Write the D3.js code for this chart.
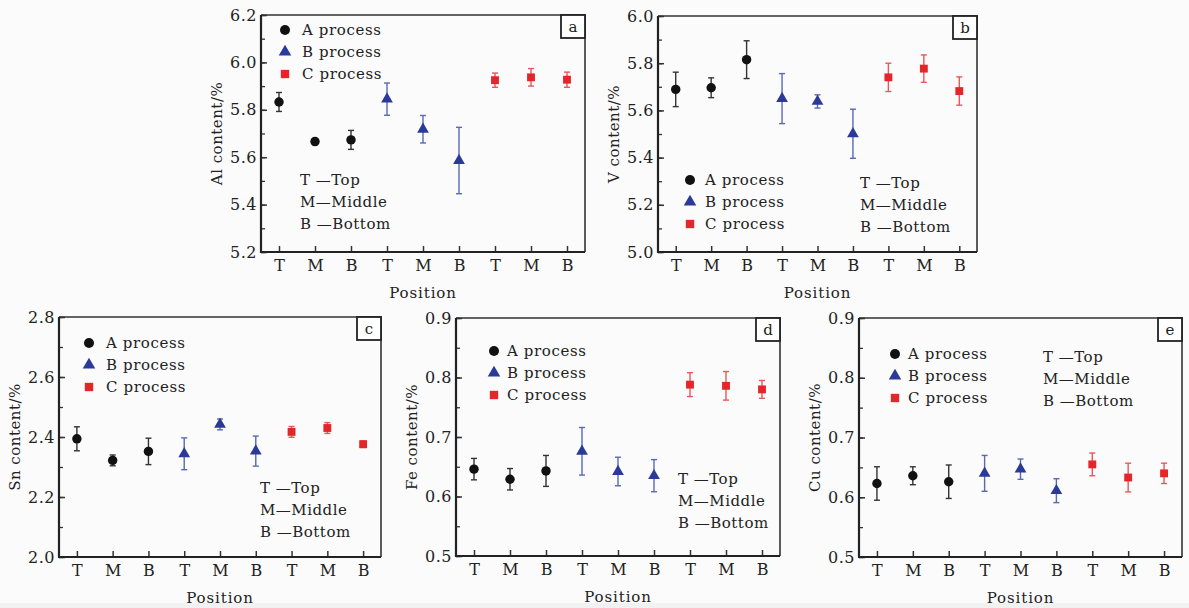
<!DOCTYPE html>
<html>
<head>
<meta charset="utf-8">
<script src="https://cdn.jsdelivr.net/npm/d3@7"></script>
<style>
  body { margin: 0; background: #fbfbfb; }
  svg { display: block; }
  text { font-family: "DejaVu Serif", serif; fill: #222; }
</style>
</head>
<body>
<svg id="chart" width="1189" height="608"></svg>
<script>
// categories
var positions = ["T", "M", "B", "T", "M", "B", "T", "M", "B"];
var processNames = ["A process", "B process", "C process"];
var processOf = [0, 0, 0, 1, 1, 1, 2, 2, 2];
var keyLines = ["T \u2014Top", "M\u2014Middle", "B \u2014Bottom"];

// values (mean and half error bar)
var alMean = [5.833, 5.666, 5.673, 5.845, 5.718, 5.586, 5.925, 5.937, 5.927];
var alErr  = [0.040, 0.013, 0.040, 0.068, 0.058, 0.140, 0.030, 0.037, 0.032];
var vMean  = [5.689, 5.696, 5.815, 5.650, 5.638, 5.501, 5.740, 5.777, 5.682];
var vErr   = [0.073, 0.042, 0.080, 0.106, 0.028, 0.104, 0.060, 0.058, 0.060];
var snMean = [2.394, 2.322, 2.352, 2.344, 2.442, 2.353, 2.417, 2.430, 2.376];
var snErr  = [0.040, 0.018, 0.044, 0.053, 0.018, 0.050, 0.018, 0.018, 0.011];
var feMean = [0.646, 0.629, 0.643, 0.676, 0.642, 0.635, 0.788, 0.786, 0.780];
var feErr  = [0.018, 0.018, 0.026, 0.040, 0.024, 0.027, 0.020, 0.024, 0.015];
var cuMean = [0.623, 0.636, 0.626, 0.640, 0.647, 0.611, 0.655, 0.633, 0.640];
var cuErr  = [0.028, 0.015, 0.028, 0.030, 0.017, 0.020, 0.019, 0.024, 0.017];

// y tick labels
var alTicks = [5.2, 5.4, 5.6, 5.8, 6.0, 6.2];
var vTicks  = [5.0, 5.2, 5.4, 5.6, 5.8, 6.0];
var snTicks = [2.0, 2.2, 2.4, 2.6, 2.8];
var feTicks = [0.5, 0.6, 0.7, 0.8, 0.9];
var cuTicks = [0.5, 0.6, 0.7, 0.8, 0.9];

var markColor = ["#111111", "#2b3a98", "#e4262b"];
var barColor = ["#333333", "#5a69b2", "#e6585b"];
var symbols = [d3.symbolCircle, d3.symbolTriangle, d3.symbolSquare];
var symbolSize = [70, 60, 62];

var svg = d3.select("#chart");
svg.append("rect").attr("width", 1189).attr("height", 608).attr("fill", "#fbfbfb");
svg.append("rect").attr("y", 603).attr("width", 1189).attr("height", 5).attr("fill", "#f1f1f1");

var panels = [
  { id: "a", mean: alMean, err: alErr, ticks: alTicks, minor: 0.1, label: "Al content/%",
    left: 261, top: 15, right: 585, bottom: 252,
    leg: [24, 15, 41], key: [39, 165] },
  { id: "b", mean: vMean, err: vErr, ticks: vTicks, minor: 0.1, label: "V content/%",
    left: 658, top: 16, right: 977, bottom: 252,
    leg: [32, 164, 47], key: [202, 167] },
  { id: "c", mean: snMean, err: snErr, ticks: snTicks, minor: 0.1, label: "Sn content/%",
    left: 59, top: 317, right: 381, bottom: 557,
    leg: [30, 26, 47], key: [201, 171] },
  { id: "d", mean: feMean, err: feErr, ticks: feTicks, minor: 0.05, label: "Fe content/%",
    left: 456, top: 318, right: 780, bottom: 556,
    leg: [38, 33, 51], key: [222, 161] },
  { id: "e", mean: cuMean, err: cuErr, ticks: cuTicks, minor: 0.05, label: "Cu content/%",
    left: 859, top: 318, right: 1182, bottom: 557,
    leg: [36, 36, 49], key: [184, 39] }
];

panels.forEach(drawPanel);

function drawPanel(p) {
  var w = p.right - p.left, h = p.bottom - p.top;
  var g = svg.append("g").attr("transform", "translate(" + p.left + "," + p.top + ")");

  var x = d3.scaleLinear().domain([0.5, 9.5]).range([0, w]);
  var lo = p.ticks[0], hi = p.ticks[p.ticks.length - 1];
  var y = d3.scaleLinear().domain([lo, hi]).range([h, 0]);

  // minor y ticks
  var minorVals = d3.range(lo, hi + p.minor / 2, p.minor);
  g.append("g")
    .call(d3.axisLeft(y).tickValues(minorVals).tickSize(-4).tickFormat(""))
    .call(function(a) { a.select(".domain").remove(); a.selectAll("line").attr("stroke", "#333").attr("stroke-width", 1.3); });

  // major y ticks
  g.append("g")
    .call(d3.axisLeft(y).tickValues(p.ticks).tickSize(-6).tickPadding(4).tickFormat(d3.format(".1f")))
    .call(function(a) {
      a.select(".domain").remove();
      a.selectAll("line").attr("stroke", "#333").attr("stroke-width", 1.5);
      a.selectAll("text").style("font-size", "16px").style("letter-spacing", "0.5px")
        .style("font-family", "'DejaVu Serif', serif").attr("fill", "#333");
    });

  // x ticks
  g.append("g").attr("transform", "translate(0," + h + ")")
    .call(d3.axisBottom(x).tickValues(d3.range(1, 10)).tickSize(-6).tickPadding(8)
      .tickFormat(function(d) { return positions[d - 1]; }))
    .call(function(a) {
      a.select(".domain").remove();
      a.selectAll("line").attr("stroke", "#333").attr("stroke-width", 1.5);
      a.selectAll("text").style("font-size", "16px")
        .style("font-family", "'DejaVu Serif', serif").attr("fill", "#222");
    });

  // frame
  g.append("path")
    .attr("d", "M0,0H" + w + "V" + h)
    .attr("fill", "none").attr("stroke", "#333").attr("stroke-width", 1.6);
  g.append("path")
    .attr("d", "M0,0V" + h + "H" + w)
    .attr("fill", "none").attr("stroke", "#222").attr("stroke-width", 2.2);

  // panel letter box
  g.append("rect").attr("x", w - 24).attr("y", 0).attr("width", 24).attr("height", 23)
    .attr("fill", "#fff").attr("stroke", "#222").attr("stroke-width", 1.8);
  g.append("text").attr("x", w - 12).attr("y", 12).attr("dy", "0.32em")
    .attr("text-anchor", "middle").style("font-size", "15px").text(p.id);

  // error bars
  var idx = d3.range(positions.length);
  var bars = g.append("g").selectAll("g").data(idx).enter().append("g")
    .attr("stroke", function(i) { return barColor[processOf[i]]; })
    .attr("stroke-width", 1.4);
  bars.append("line")
    .attr("x1", function(i) { return x(i + 1); }).attr("x2", function(i) { return x(i + 1); })
    .attr("y1", function(i) { return y(p.mean[i] - p.err[i]); })
    .attr("y2", function(i) { return y(p.mean[i] + p.err[i]); });
  [-1, 1].forEach(function(s) {
    bars.append("line")
      .attr("x1", function(i) { return x(i + 1) - 3; }).attr("x2", function(i) { return x(i + 1) + 3; })
      .attr("y1", function(i) { return y(p.mean[i] + s * p.err[i]); })
      .attr("y2", function(i) { return y(p.mean[i] + s * p.err[i]); });
  });

  // points
  g.append("g").selectAll("path").data(idx).enter().append("path")
    .attr("transform", function(i) { return "translate(" + x(i + 1) + "," + y(p.mean[i]) + ")"; })
    .attr("d", function(i) { var k = processOf[i]; return d3.symbol(symbols[k], symbolSize[k])(); })
    .attr("fill", function(i) { return markColor[processOf[i]]; });

  // legend
  var leg = g.append("g");
  processNames.forEach(function(name, k) {
    var ly = p.leg[1] + k * 22;
    leg.append("path").attr("transform", "translate(" + p.leg[0] + "," + ly + ")")
      .attr("d", d3.symbol(symbols[k], symbolSize[k] + 8)()).attr("fill", markColor[k]);
    leg.append("text").attr("x", p.leg[2]).attr("y", ly).attr("dy", "0.36em")
      .style("font-size", "15px").style("letter-spacing", "0.6px").text(name);
  });
  keyLines.forEach(function(t, k) {
    leg.append("text").attr("x", p.key[0]).attr("y", p.key[1] + k * 22).attr("dy", "0.36em")
      .style("font-size", "15px").style("letter-spacing", "0.5px").text(t);
  });

  // axis titles
  svg.append("text")
    .attr("transform", "translate(" + (p.left - 44) + "," + (p.top + h / 2) + ") rotate(-90)")
    .attr("text-anchor", "middle").attr("dy", "0.36em")
    .style("font-size", "15px").style("letter-spacing", "0.5px").text(p.label);
  svg.append("text")
    .attr("x", p.left + w / 2).attr("y", p.bottom + 41).attr("dy", "0.36em")
    .attr("text-anchor", "middle")
    .style("font-size", "15px").style("letter-spacing", "0.9px").text("Position");
}
</script>
</body>
</html>
